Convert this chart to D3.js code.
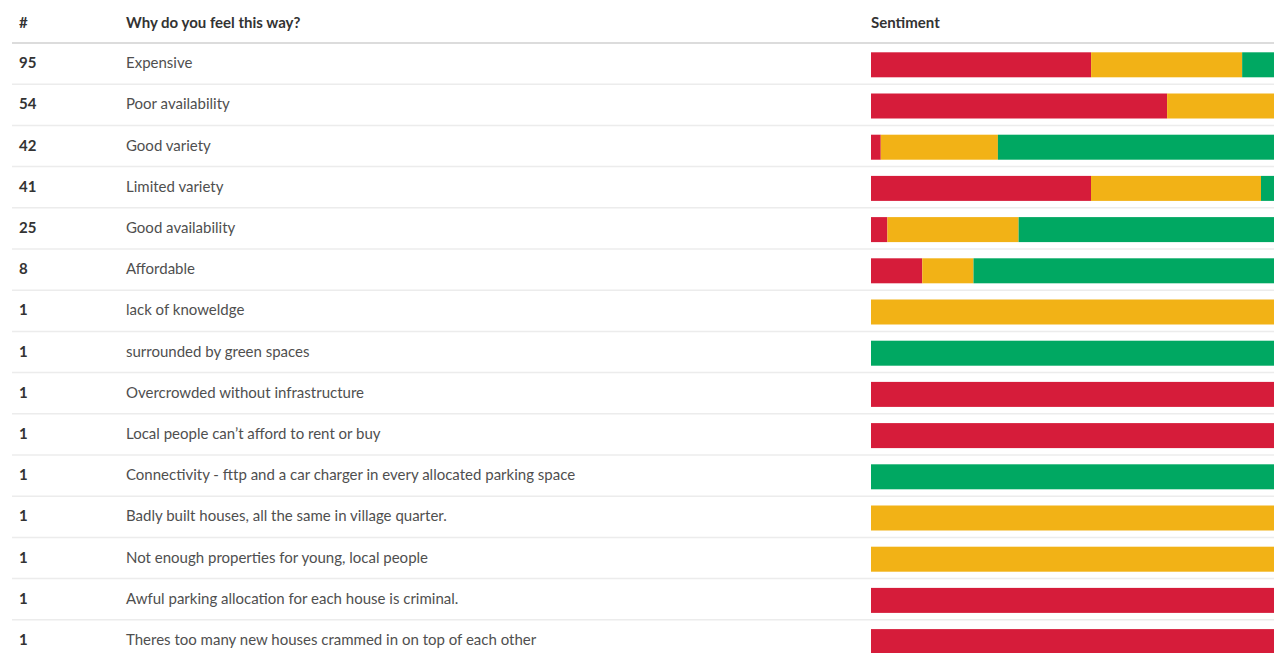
<!DOCTYPE html>
<html>
<head>
<meta charset="utf-8">
<script src="https://cdn.jsdelivr.net/npm/d3@7"></script>
<style>
  body { margin: 0; background: #fff; overflow: hidden; }
  svg { display: block; }
  text { font-family: "Source Sans Pro", Lato, sans-serif; }
</style>
</head>
<body>
<script>
var reasons = [
	"Expensive",
	"Poor availability",
	"Good variety",
	"Limited variety",
	"Good availability",
	"Affordable",
	"lack of knoweldge",
	"surrounded by green spaces",
	"Overcrowded without infrastructure",
	"Local people can\u2019t afford to rent or buy",
	"Connectivity - fttp and a car charger in every allocated parking space",
	"Badly built houses, all the same in village quarter.",
	"Not enough properties for young, local people",
	"Awful parking allocation for each house is criminal.",
	"Theres too many new houses crammed in on top of each other"
];
var counts = [95, 54, 42, 41, 25, 8, 1, 1, 1, 1, 1, 1, 1, 1, 1];
var negative = [51, 39, 1, 22, 1, 1, 0, 0, 1, 1, 0, 0, 0, 1, 1];
var neutral  = [35, 15, 12, 17, 8, 1, 1, 0, 0, 0, 0, 1, 1, 0, 0];
var positive = [9, 0, 29, 2, 16, 6, 0, 1, 0, 0, 1, 0, 0, 0, 0];
var headers = ["#", "Why do you feel this way?", "Sentiment"];

var w = 1274;
var h = 653;
var headerH = 43.5;
var rowH = 41.2;
var barH = 25;
var colors = ["#d61c3a", "#f2b216", "#00a862"];

var svg = d3.select("body")
	.append("svg")
	.attr("width", w)
	.attr("height", h);

var y = d3.scaleBand()
	.domain(d3.range(reasons.length))
	.range([headerH, headerH + rowH * reasons.length]);

// header
svg.selectAll("text.head")
	.data(headers)
	.enter()
	.append("text")
	.attr("class", "head")
	.attr("x", function(d, i) { return [19, 126, 871][i]; })
	.attr("y", 23)
	.attr("dy", "0.35em")
	.attr("font-size", "15px")
	.attr("font-weight", "bold")
	.attr("fill", "#333")
	.text(function(d) { return d; });

svg.append("line")
	.attr("x1", 12).attr("x2", w)
	.attr("y1", headerH - 0.5).attr("y2", headerH - 0.5)
	.attr("stroke", "#dcdcdc")
	.attr("stroke-width", 2);

var rows = svg.selectAll("g.row")
	.data(reasons)
	.enter()
	.append("g")
	.attr("class", "row")
	.attr("transform", function(d, i) { return "translate(0," + y(i) + ")"; });

rows.append("line")
	.attr("x1", 12).attr("x2", w)
	.attr("y1", rowH - 0.5).attr("y2", rowH - 0.5)
	.attr("stroke", "#ececec")
	.attr("stroke-width", 1.5);

rows.append("text")
	.attr("x", 19)
	.attr("y", 19.5)
	.attr("dy", "0.35em")
	.attr("font-size", "15px")
	.attr("font-weight", "bold")
	.attr("fill", "#333")
	.text(function(d, i) { return counts[i]; });

rows.append("text")
	.attr("x", 126)
	.attr("y", 19.5)
	.attr("dy", "0.35em")
	.attr("font-size", "15px")
	.attr("fill", "#4f4f4f")
	.text(function(d) { return d; });

// sentiment bars, share of each row's total
var x = d3.scaleLinear().domain([0, 1]).range([871, 1281]);

rows.each(function(d, i) {
	var parts = [negative[i], neutral[i], positive[i]];
	var total = d3.sum(parts);
	var acc = 0;
	var segs = parts.map(function(v, k) {
		var s = { x0: acc / total, x1: (acc + v) / total, c: colors[k] };
		acc += v;
		return s;
	}).filter(function(s) { return s.x1 > s.x0; });

	d3.select(this).selectAll("rect")
		.data(segs)
		.enter()
		.append("rect")
		.attr("x", function(s) { return x(s.x0); })
		.attr("y", 8.8)
		.attr("width", function(s) { return x(s.x1) - x(s.x0); })
		.attr("height", barH)
		.attr("fill", function(s) { return s.c; });
});
</script>
</body>
</html>
